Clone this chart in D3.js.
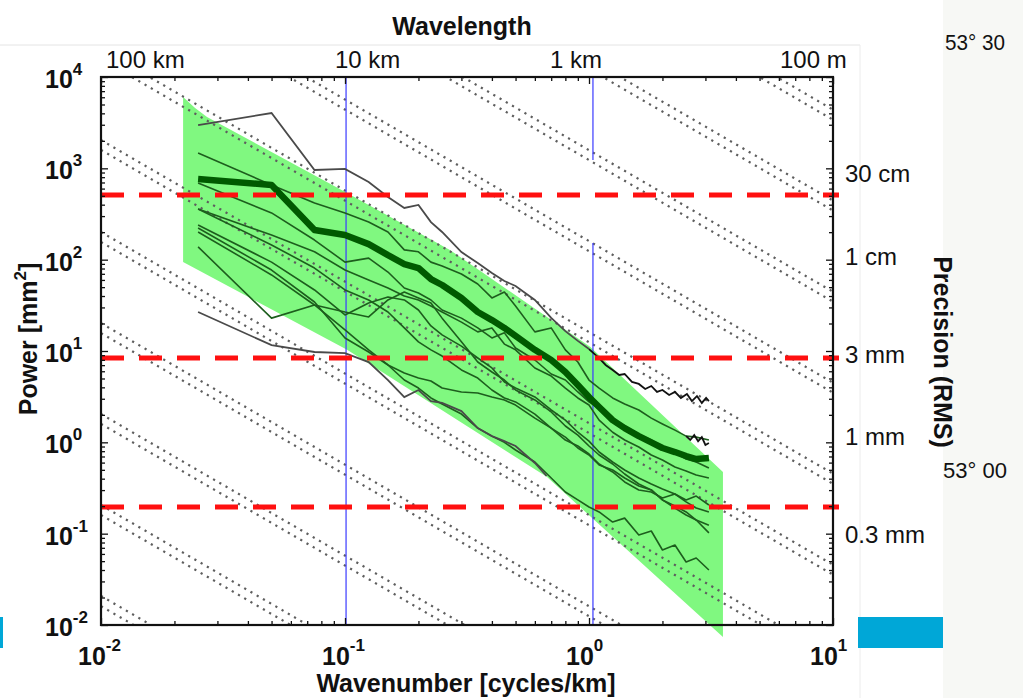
<!DOCTYPE html>
<html>
<head>
<meta charset="utf-8">
<script src="https://cdn.jsdelivr.net/npm/d3@7"></script>
<style>
  body { margin: 0; background: #fff; }
  svg { font-family: "Liberation Sans", Arial, Helvetica, sans-serif; }
</style>
</head>
<body>
<svg id="chart" width="1023" height="698"></svg>
<script>
// wavenumber grid (cycles/km) used by the single-track spectra
var kGrid = [0.025,0.05,0.075,0.1,0.125,0.15,0.175,0.2,0.225,0.25,0.3,0.35,0.4,0.45,0.5,0.6,0.7,0.8,0.9,1.0,1.1,1.25,1.4,1.6,1.8,2.0,2.25,2.5,2.75,3.1];

// thin spectra, power in mm^2
var specA = [1470,657,418,325,259,201,128,122,94,85.3,69.7,54.1,38.1,44.3,31.1,16.2,17.9,10.3,7.58,4.81,3.93,3.06,2.63,2.26,1.84,1.59,1.36,1.17,1.14,1.06];
var specB = [691,325,164,94,104,73.2,49,43.1,36.2,28.1,22.9,17.9,13.9,15.8,10.8,7.97,5.6,4.81,3.56,2.77,2.32,1.84,1.51,1.23,1.06,0.889,0.765,0.656,0.609,0.524];
var specC = [359,186,122,77,60,49,40,36.2,31.1,26.7,20.7,16.2,17.9,11.9,10.3,6.52,5.32,3.93,3.06,2.56,1.75,1.29,1.06,0.889,0.727,0.64,0.537,0.486,0.439,0.407];
var specD = [240,94,46.6,24.8,33.5,39,36.2,28.1,18.8,15,11.3,8.38,6.52,4.57,3.93,3.14,2.26,1.75,1.29,1.03,0.784,0.609,0.498,0.407,0.35,0.309,0.272,0.234,0.258,0.206];
var specE = [359,145,81,46.6,36.2,26.7,17.9,12.6,10.3,8.81,6.2,5.06,3.74,3.06,2.77,2.04,1.43,1.06,0.912,0.746,0.579,0.474,0.368,0.301,0.286,0.246,0.272,0.223,0.191,0.173];
var specF = [138,22.9,31.9,26.7,23.6,36.2,44.3,38.1,33.5,22.9,12.6,7.58,5.89,4.81,3.74,2.91,2.15,1.51,1.2,0.912,0.727,0.579,0.45,0.35,0.301,0.234,0.201,0.173,0.141,0.102];
var specG = [222,77,34.4,13.9,9.75,7.03,5.74,5.06,4.69,3.93,3.56,3.47,3.14,2.91,2.56,1.84,1.43,1.14,0.867,0.727,0.565,0.498,0.407,0.332,0.301,0.234,0.191,0.16,0.141,0.124];
var specH = [201,68,31.9,17,10.3,7.03,4.81,3.93,3.06,2.63,2.04,1.43,1.17,1.0,0.824,0.609,0.407,0.286,0.234,0.196,0.173,0.134,0.148,0.0966,0.107,0.0662,0.0751,0.0489,0.0541,0.04];

// mean spectrum (thick line)
var meanPower = [764,657,211,186,148,112,89.6,81,61.4,52.8,38,26.7,21.8,17.9,14.6,10.3,7.97,5.89,4.24,3.13,2.44,1.75,1.43,1.17,1.0,0.867,0.783,0.708,0.656,0.673];

// upper grey spectrum, noisy beyond 1 cycle/km
var topK = [0.025,0.05,0.075,0.1,0.125,0.15,0.175,0.2,0.225,0.25,0.3,0.35,0.4,0.45,0.5,0.6,0.7,0.8,0.9,1.0,1.1,1.17,1.25,1.33,1.4,1.5,1.6,1.7,1.8,1.9,2.0,2.13,2.25,2.38,2.52,2.64,2.77,2.9,3.02,3.1];
var topP = [2980,4030,959,984,708,485,368,397,258,201,121,91.9,71.4,58.4,51.5,36.2,23,16.5,12.9,10.5,8.37,7.03,6.2,5.46,5.6,4.58,4.36,3.84,4.14,3.56,3.74,3.30,3.56,3.06,3.38,2.83,3.21,2.70,3.06,2.83];

// lower grey spectrum
var lowK = [0.025,0.05,0.075,0.1,0.125,0.15,0.175,0.2,0.225,0.25,0.3,0.35,0.4,0.45,0.5,0.6,0.67];
var lowP = [26.7,11.6,9.75,9.5,7.57,4.81,3.13,3.74,2.83,2.70,2.20,1.43,1.17,1.03,0.911,0.594,0.428];

// short black piece at the end
var tailK = [2.5,2.6,2.7,2.8,2.9,3.0,3.1];
var tailP = [1.17,1.06,1.20,1.03,1.14,0.935,0.983];

// green envelope
var bandUpperK = [0.0217,0.0243,0.0272,0.102,0.269,1.01,3.54];
var bandUpperP = [6040,4580,3650,537,128,11.1,0.473];
var bandLowerK = [3.54,0.673,0.102,0.0217];
var bandLowerP = [0.0074,0.417,10.3,94];

// reference levels
var redLevels = [510, 8.38, 0.196];
var blueK = [0.101, 1.038];
var blueGapP = [152, 1230];

// dotted reference lines: power at k = 0.01 and common log slope
var dotLeftP = [1.96e8,1.52e8,1.98e7,1.54e7,1.99e6,1.55e6,2.01e5,1.56e5,2.03e4,1.57e4,2040,1590,201,156,20.2,15.7,2.04,1.59,0.206,0.160,0.0208,0.0161];
var dotSlope = -1.55;

// axis labels
var xDecades = [-2,-1,0,1];
var yDecades = [-2,-1,0,1,2,3,4];
var waveLabels = ["100 km","10 km","1 km","100 m"];
var waveK = [0.01,0.1,1,10];
var waveShift = [5,-10,-39,-53];
var rightLabels = ["30 cm","1 cm","3 mm","1 mm","0.3 mm"];
var rightP = [1000,100,10,1,0.1];
var rightDy = [14,5,12,3,9];

var svg = d3.select("#chart");

var x = d3.scaleLog().domain([0.01, 10]).range([101, 833]);
var y = d3.scaleLog().domain([0.01, 1e4]).range([625, 77]);

// slide decorations around the figure
svg.append("rect").attr("x", 943).attr("y", 0).attr("width", 80).attr("height", 698).attr("fill", "#f7f8f5");
svg.append("line").attr("x1", 0).attr("x2", 860).attr("y1", 45).attr("y2", 45).attr("stroke", "#e4e4e4");
svg.append("line").attr("x1", 860).attr("x2", 860).attr("y1", 45).attr("y2", 698).attr("stroke", "#ececec");
svg.append("rect").attr("x", 0).attr("y", 617).attr("width", 3).attr("height", 31).attr("fill", "#00a7d7");
svg.append("rect").attr("x", 858).attr("y", 617).attr("width", 85).attr("height", 31).attr("fill", "#00a7d7");
svg.append("text").attr("x", 945).attr("y", 50).attr("font-size", 22).attr("fill", "#111")
  .attr("textLength", 60).attr("lengthAdjust", "spacingAndGlyphs").text("53° 30");
svg.append("text").attr("x", 943).attr("y", 478).attr("font-size", 22).attr("fill", "#111")
  .attr("textLength", 64).attr("lengthAdjust", "spacingAndGlyphs").text("53° 00");

svg.append("clipPath").attr("id", "plotclip")
  .append("rect").attr("x", 101).attr("y", 77).attr("width", 732).attr("height", 548);

// green envelope (runs slightly past the bottom axis, like the original)
var bandPts = bandUpperK.map(function(k, i) { return [x(k), y(bandUpperP[i])]; })
  .concat(bandLowerK.map(function(k, i) { return [x(k), y(bandLowerP[i])]; }));
svg.append("path")
  .attr("d", d3.line()(bandPts) + "Z")
  .attr("fill", "#80f880");

var plot = svg.append("g").attr("clip-path", "url(#plotclip)");

// dotted diagonal guides
dotLeftP.forEach(function(p) {
  var pr = p * Math.pow(1000, dotSlope);
  plot.append("line")
    .attr("x1", x(0.01)).attr("y1", y(p))
    .attr("x2", x(10)).attr("y2", y(pr))
    .attr("stroke", "#5e5e5e")
    .attr("stroke-width", 2.2)
    .attr("stroke-dasharray", "2.2,5");
});

// blue wavelength markers
plot.append("line").attr("x1", x(blueK[0])).attr("x2", x(blueK[0]))
  .attr("y1", y(1e4)).attr("y2", y(0.01)).attr("stroke", "#3a3aff").attr("stroke-width", 1.2);
plot.append("line").attr("x1", x(blueK[1])).attr("x2", x(blueK[1]))
  .attr("y1", y(1e4)).attr("y2", y(blueGapP[1])).attr("stroke", "#3a3aff").attr("stroke-width", 1.2);
plot.append("line").attr("x1", x(blueK[1])).attr("x2", x(blueK[1]))
  .attr("y1", y(blueGapP[0])).attr("y2", y(0.01)).attr("stroke", "#3a3aff").attr("stroke-width", 1.2);

var line = d3.line().x(function(d) { return x(d[0]); }).y(function(d) { return y(d[1]); });
function pairs(ks, ps) { return ks.map(function(k, i) { return [k, ps[i]]; }); }

[specA, specB, specC, specD, specE, specF, specG, specH].forEach(function(s) {
  plot.append("path")
    .datum(pairs(kGrid, s))
    .attr("fill", "none")
    .attr("stroke", "#1d5e1d")
    .attr("stroke-width", 1.6)
    .attr("stroke-linejoin", "round")
    .attr("d", line);
});

var topPts = pairs(topK, topP);
plot.append("path").datum(topPts.slice(0, 20))
  .attr("fill", "none").attr("stroke", "#4a4a4a").attr("stroke-width", 1.8).attr("d", line);
plot.append("path").datum(topPts.slice(19))
  .attr("fill", "none").attr("stroke", "#111").attr("stroke-width", 1.8).attr("d", line);
plot.append("path").datum(pairs(lowK, lowP))
  .attr("fill", "none").attr("stroke", "#4a4a4a").attr("stroke-width", 1.8).attr("d", line);
plot.append("path").datum(pairs(tailK, tailP))
  .attr("fill", "none").attr("stroke", "#111").attr("stroke-width", 1.8).attr("d", line);

// mean spectrum
plot.append("path")
  .datum(pairs(kGrid, meanPower))
  .attr("fill", "none")
  .attr("stroke", "#005a00")
  .attr("stroke-width", 6.5)
  .attr("stroke-linejoin", "round")
  .attr("d", line);

// red precision levels
redLevels.forEach(function(p) {
  svg.append("line")
    .attr("x1", x(0.01)).attr("x2", x(10) + 6)
    .attr("y1", y(p)).attr("y2", y(p))
    .attr("stroke", "#ff1010")
    .attr("stroke-width", 5)
    .attr("stroke-dasharray", "23,15");
});

// axes, ticks pointing inward
function isDecade(v) { var l = Math.log10(v); return Math.abs(l - Math.round(l)) < 1e-6; }
function styleAxis(g, sign, horizontal) {
  g.select(".domain").remove();
  g.selectAll(".tick line")
    .attr("stroke", "#111")
    .attr("stroke-width", 1.3)
    .attr(horizontal ? "y2" : "x2", function(d) { return sign * (isDecade(d) ? 7 : 4); });
}
styleAxis(svg.append("g").attr("transform", "translate(0,625)")
  .call(d3.axisBottom(x).tickFormat("").tickSizeOuter(0)), -1, true);
styleAxis(svg.append("g").attr("transform", "translate(0,77)")
  .call(d3.axisTop(x).tickFormat("").tickSizeOuter(0)), 1, true);
styleAxis(svg.append("g").attr("transform", "translate(101,0)")
  .call(d3.axisLeft(y).tickFormat("").tickSizeOuter(0)), 1, false);
styleAxis(svg.append("g").attr("transform", "translate(833,0)")
  .call(d3.axisRight(y).tickFormat("").tickSizeOuter(0)), -1, false);

svg.append("rect")
  .attr("x", 101).attr("y", 77).attr("width", 732).attr("height", 548)
  .attr("fill", "none").attr("stroke", "#111").attr("stroke-width", 2.2);

// left decade labels
yDecades.forEach(function(e) {
  var t = svg.append("text").attr("x", 45).attr("y", y(Math.pow(10, e)) + 11)
    .attr("font-size", 25).attr("font-weight", "bold").attr("fill", "#111");
  t.append("tspan").text("10");
  t.append("tspan").attr("dy", -13).attr("font-size", 17).text(String(e));
});

// bottom decade labels
xDecades.forEach(function(e) {
  var t = svg.append("text").attr("x", x(Math.pow(10, e)) - 23).attr("y", 665)
    .attr("font-size", 25).attr("font-weight", "bold").attr("fill", "#111");
  t.append("tspan").text("10");
  t.append("tspan").attr("dy", -14).attr("font-size", 17).text(String(e));
});

// wavelength labels on top
waveLabels.forEach(function(s, i) {
  svg.append("text").attr("x", x(waveK[i]) + waveShift[i]).attr("y", 68)
    .attr("font-size", 24).attr("fill", "#111").text(s);
});

// precision labels on the right
rightLabels.forEach(function(s, i) {
  svg.append("text").attr("x", 845).attr("y", y(rightP[i]) + rightDy[i])
    .attr("font-size", 24).attr("fill", "#111").text(s);
});

// titles
svg.append("text").attr("x", 462).attr("y", 35).attr("text-anchor", "middle")
  .attr("font-size", 25).attr("font-weight", "bold").attr("fill", "#111").text("Wavelength");
svg.append("text").attr("x", 466).attr("y", 692).attr("text-anchor", "middle")
  .attr("font-size", 25).attr("font-weight", "bold").attr("fill", "#111").text("Wavenumber [cycles/km]");

var py = svg.append("text").attr("text-anchor", "middle")
  .attr("transform", "translate(37,339)rotate(-90)")
  .attr("font-size", 25).attr("font-weight", "bold").attr("fill", "#111");
py.append("tspan").text("Power [mm");
py.append("tspan").attr("dy", -11).attr("font-size", 17).text("2");
py.append("tspan").attr("dy", 11).text("]");

svg.append("text").attr("text-anchor", "middle")
  .attr("transform", "translate(934,352)rotate(90)")
  .attr("font-size", 25).attr("font-weight", "bold").attr("fill", "#111").text("Precision (RMS)");
</script>
</body>
</html>
